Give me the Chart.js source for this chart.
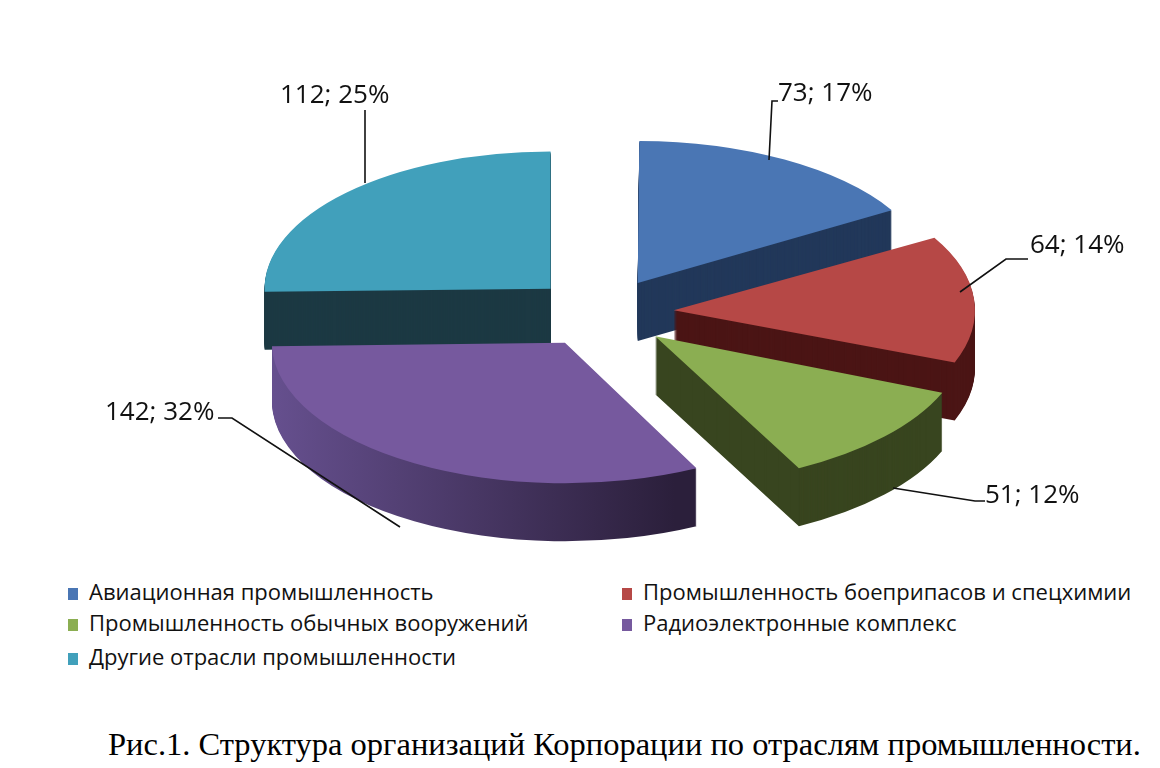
<!DOCTYPE html>
<html>
<head>
<meta charset="utf-8">
<script src="https://cdn.jsdelivr.net/npm/chart.js@4.4.0/dist/chart.umd.min.js"></script>
<style>
  body { margin: 0; background: #fff; width: 1160px; height: 768px; overflow: hidden; position: relative; }
  #wrap { position: absolute; left: 0; top: 0; width: 1160px; height: 570px; }
  #legend { position: absolute; left: 0; top: 570px; width: 1160px; font-family: "Open Sans", sans-serif; font-size: 22px; color: #111; }
  .item { position: absolute; white-space: nowrap; }
  .item i { display: inline-block; width: 10px; height: 12px; margin-right: 11px; vertical-align: 0px; }
  #caption { position: absolute; left: 108px; top: 726px; font-family: "Liberation Serif", serif; font-size: 32.5px; color: #000; white-space: nowrap; }
</style>
</head>
<body>
<div id="wrap"><canvas id="pie" width="1160" height="570"></canvas></div>
<div id="legend"></div>
<div id="caption">Рис.1. Структура организаций Корпорации по отраслям промышленности.</div>
<script>
// data
const labels = [
  'Авиационная промышленность',
  'Промышленность боеприпасов и спецхимии',
  'Промышленность обычных вооружений',
  'Радиоэлектронные комплекс',
  'Другие отрасли промышленности'
];
const values = [73, 64, 51, 142, 112];
const percents = [17, 14, 12, 32, 25];

const topColors = ['#4a76b4', '#b64846', '#8bae52', '#76599e', '#41a0bb'];
const sideColors = ['#22385a', '#4b1515', '#38451f', '#3a2b55', '#1c3943'];

// chart.js shifts each arc by offset/4
const EXPLODE = 288;
const RADIUS = 286;
const SQUASH = 0.48;
const DEPTH = 58;

// label placement: text position and leader line points (screen px)
const labelPos = [
  { x: 778, y: 94, line: [[769, 160], [772, 101], [778, 101]] },
  { x: 1030, y: 246, line: [[960, 292], [1006, 259], [1028, 259]] },
  { x: 985, y: 496, line: [[893, 488], [975, 501], [985, 501]] },
  { x: 105, y: 413, line: [[400, 527], [232, 418], [218, 418]] },
  { x: 280, y: 96, line: [[365, 183], [365, 110]] }
];

function squash(ctx, chart, dy) {
  const a = chart.getDatasetMeta(0).data[0];
  ctx.translate(0, dy);
  ctx.translate(a.x, a.y);
  ctx.scale(1, SQUASH);
  ctx.translate(-a.x, -a.y);
}

const pie3d = {
  id: 'pie3d',
  beforeDatasetsDraw(chart) {
    const ctx = chart.ctx;
    const arcs = chart.getDatasetMeta(0).data;
    const cx = arcs[0].x;
    const g = ctx.createLinearGradient(cx - 330, 0, cx + 110, 0);
    g.addColorStop(0, '#6b5496');
    g.addColorStop(1, '#2b1f3b');
    const fills = sideColors.map((c, i) => i === 3 ? g : c);
    for (let d = DEPTH; d > 0; d--) {
      ctx.save();
      squash(ctx, chart, d);
      arcs.forEach((a, i) => {
        const orig = a.options;
        a.options = Object.assign({}, orig, { backgroundColor: fills[i] });
        a.draw(ctx);
        a.options = orig;
      });
      ctx.restore();
    }
  },
  beforeDatasetDraw(chart) {
    chart.ctx.save();
    squash(chart.ctx, chart, 0);
  },
  afterDatasetDraw(chart) {
    chart.ctx.restore();
  },
  afterDraw(chart) {
    const ctx = chart.ctx;
    ctx.save();
    ctx.strokeStyle = '#111';
    ctx.lineWidth = 1.6;
    ctx.fillStyle = '#111';
    ctx.font = '26px "Open Sans", sans-serif';
    ctx.textBaseline = 'middle';
    labelPos.forEach((p, i) => {
      ctx.beginPath();
      p.line.forEach((pt, k) => k ? ctx.lineTo(pt[0], pt[1]) : ctx.moveTo(pt[0], pt[1]));
      ctx.stroke();
      ctx.fillText(values[i] + '; ' + percents[i] + '%', p.x, p.y);
    });
    ctx.restore();
  }
};

new Chart(document.getElementById('pie'), {
  type: 'pie',
  data: {
    labels: labels,
    datasets: [{
      data: values,
      backgroundColor: topColors,
      borderWidth: 0,
      offset: EXPLODE,
      radius: RADIUS
    }]
  },
  options: {
    responsive: false,
    animation: false,
    events: [],
    layout: { padding: { left: 44, top: 56, bottom: 0 } },
    plugins: { legend: { display: false }, tooltip: { enabled: false } }
  },
  plugins: [pie3d]
});

// legend
const legendPos = [[68, 6], [622, 6], [68, 37], [622, 37], [68, 71]];
const legend = document.getElementById('legend');
labels.forEach((l, i) => {
  const el = document.createElement('div');
  el.className = 'item';
  el.style.left = legendPos[i][0] + 'px';
  el.style.top = legendPos[i][1] + 'px';
  el.innerHTML = '<i style="background:' + topColors[i] + '"></i>' + l;
  legend.appendChild(el);
});
</script>
</body>
</html>
